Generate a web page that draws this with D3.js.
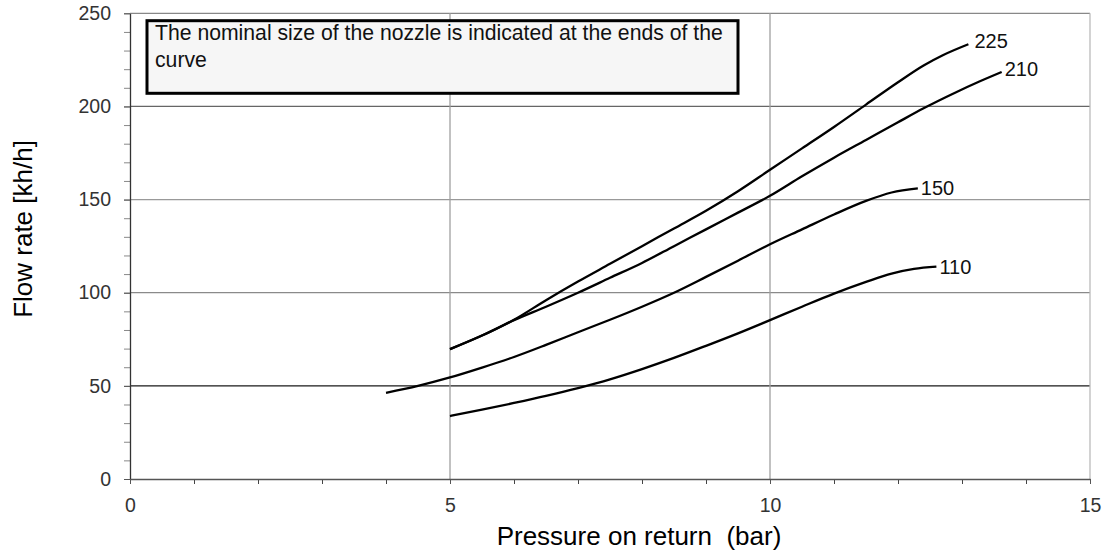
<html>
<script src="https://d3js.org/d3.v7.min.js"></script>
<body style="margin:0;background:#fff">
<svg width=1108 height=556></svg>
<script>

// values: [pressure (bar), flow rate]
var xTicks = [0, 5, 10, 15];
var yTicks = [0, 50, 100, 150, 200, 250];
var nozzleLabels = ["225", "210", "150", "110"];

var nozzle225 = [[5,69.7],[5.5,77],[6,85.5],[6.5,96],[7,106],[7.5,115.5],[8,125],[8.5,134.5],[9,144],[9.5,154.5],[10,166],[10.5,177.5],[11,189],[11.5,201],[12,213],[12.4,222],[12.7,227.5],[13.1,233.4]];
var nozzle210 = [[5,69.7],[5.5,77],[6,85.3],[6.5,92.5],[7,100],[7.5,108],[8,116],[8.5,125],[9,134],[9.5,143],[10,152],[10.5,162.5],[11,172.5],[11.5,182],[12,191.5],[12.4,199],[12.9,207.5],[13.28,213.5],[13.62,218.5]];
var nozzle150 = [[4,46.3],[4.5,50],[5,54.5],[5.5,59.8],[6,65.5],[6.5,72],[7,78.8],[7.5,85.5],[8,92.5],[8.5,100],[9,108.5],[9.5,117.2],[10,126],[10.5,134],[11,142],[11.5,149.3],[11.9,153.8],[12.31,156]];
var nozzle110 = [[5,33.8],[5.5,37.2],[6,40.8],[6.5,44.6],[7,48.8],[7.5,53.5],[8,59],[8.5,65],[9,71.5],[9.5,78.2],[10,85.3],[10.5,92.5],[11,99.5],[11.5,105.8],[11.9,110.3],[12.25,112.8],[12.6,114]];

var series = [nozzle225, nozzle210, nozzle150, nozzle110];

var svg = d3.select("svg");
var plotLeft = 130, plotRight = 1090, plotTop = 13.3, plotBottom = 479;
var font = "Liberation Sans, Arial, sans-serif";

var x = d3.scaleLinear().domain([0, 15]).range([plotLeft, plotRight]);
var y = d3.scaleLinear().domain([0, 250]).range([plotBottom, plotTop]);

// horizontal grid lines, each a slightly different grey like the scan
var hColor = {50: "#1a1a1a", 100: "#8a8a8a", 150: "#999", 200: "#666", 250: "#888"};
svg.append("g")
    .selectAll("line")
    .data(yTicks.filter(function(d) { return d > 0; }))
    .enter().append("line")
    .attr("x1", plotLeft).attr("x2", plotRight)
    .attr("y1", function(d) { return y(d); })
    .attr("y2", function(d) { return y(d); })
    .style("stroke", function(d) { return hColor[d]; })
    .style("stroke-width", 1.3);

// vertical grid lines
svg.append("g")
    .selectAll("line")
    .data(xTicks.filter(function(d) { return d > 0; }))
    .enter().append("line")
    .attr("x1", function(d) { return x(d); })
    .attr("x2", function(d) { return x(d); })
    .attr("y1", plotTop).attr("y2", plotBottom)
    .style("stroke", function(d) { return d == 15 ? "#bbb" : "#a0a0a0"; })
    .style("stroke-width", 1.3);

// y axis: minor ticks every 10, labels every 50
var yMinor = svg.append("g")
    .attr("transform", "translate(" + plotLeft + ",0)")
    .call(d3.axisLeft(y).tickValues(d3.range(0, 251, 10)).tickSize(6).tickFormat(""));
yMinor.select(".domain").remove();
yMinor.selectAll("line").style("stroke", "#888");

var yAxis = svg.append("g")
    .attr("transform", "translate(" + plotLeft + ",0)")
    .call(d3.axisLeft(y).tickValues(yTicks).tickSize(6).tickSizeOuter(0).tickPadding(13));
yAxis.select(".domain").style("stroke", "#333").style("stroke-width", 1.3);
yAxis.selectAll("line").style("stroke", "#555");
yAxis.selectAll("text")
    .style("font-family", font)
    .style("font-size", "19.5px")
    .style("fill", "#333");

// x axis
var xMinor = svg.append("g")
    .attr("transform", "translate(0," + plotBottom + ")")
    .call(d3.axisBottom(x).tickValues(d3.range(0, 16, 1)).tickSize(5).tickFormat(""));
xMinor.select(".domain").remove();
xMinor.selectAll("line").style("stroke", "#444");

var xAxis = svg.append("g")
    .attr("transform", "translate(0," + plotBottom + ")")
    .call(d3.axisBottom(x).tickValues(xTicks).tickSize(5).tickSizeOuter(0).tickPadding(14));
xAxis.select(".domain").style("stroke", "#555").style("stroke-width", 1.5);
xAxis.selectAll("line").style("stroke", "#555");
xAxis.selectAll("text")
    .style("font-family", font)
    .style("font-size", "19.5px")
    .style("fill", "#333");

// curves
var line = d3.line()
    .x(function(d) { return x(d[0]); })
    .y(function(d) { return y(d[1]); })
    .curve(d3.curveMonotoneX);

svg.append("g")
    .selectAll("path")
    .data(series)
    .enter().append("path")
    .attr("d", line)
    .style("fill", "none")
    .style("stroke", "#000")
    .style("stroke-width", 2.3);

// nozzle size at the end of each curve
svg.append("g")
    .selectAll("text")
    .data(series)
    .enter().append("text")
    .attr("x", function(d, i) { return x(d[d.length - 1][0]) + (i == 0 ? 6 : 3); })
    .attr("y", function(d, i) { return y(d[d.length - 1][1]) + 7 - (i == 0 ? 3.5 : i == 1 ? 2.5 : 0); })
    .style("font-family", font)
    .style("font-size", "20px")
    .style("fill", "#111")
    .text(function(d, i) { return nozzleLabels[i]; });

// note box
svg.append("rect")
    .attr("x", 147).attr("y", 20.7)
    .attr("width", 591).attr("height", 72.6)
    .style("fill", "#f6f6f6")
    .style("stroke", "#000")
    .style("stroke-width", 3);

var note = svg.append("text")
    .style("font-family", font)
    .style("font-size", "21.2px")
    .style("fill", "#111");
note.append("tspan").attr("x", 155).attr("y", 39.5)
    .text("The nominal size of the nozzle is indicated at the ends of the");
note.append("tspan").attr("x", 155).attr("y", 66.5)
    .text("curve");

// axis titles
svg.append("text")
    .attr("text-anchor", "middle")
    .attr("x", 639)
    .attr("y", 545)
    .style("font-family", font)
    .style("font-size", "26px")
    .style("white-space", "pre")
    .text("Pressure on return  (bar)");

svg.append("text")
    .attr("text-anchor", "middle")
    .attr("transform", "translate(32,229) rotate(-90)")
    .style("font-family", font)
    .style("font-size", "26px")
    .text("Flow rate [kh/h]");

</script>
</body>
</html>
